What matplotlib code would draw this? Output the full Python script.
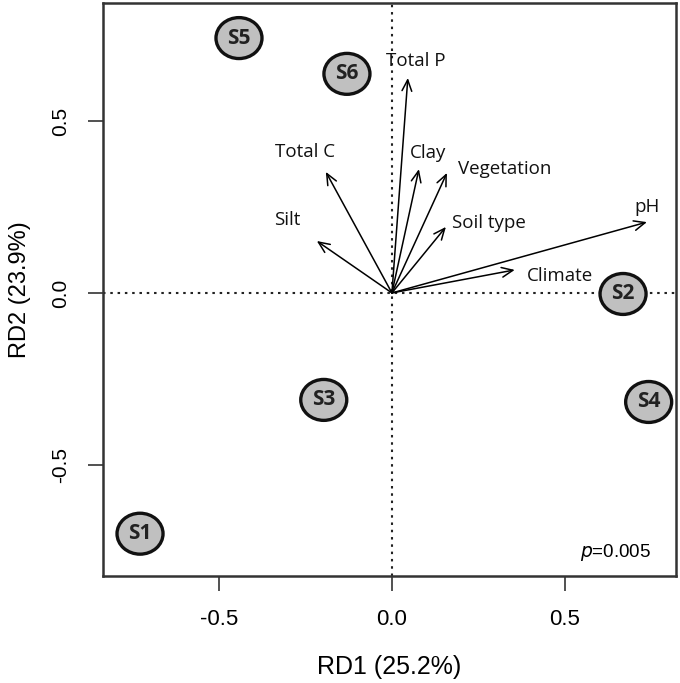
import matplotlib.pyplot as plt
from matplotlib.patches import Ellipse

# site scores (RD1, RD2)
sites = ['S1', 'S2', 'S3', 'S4', 'S5', 'S6']
site_x = [-0.728, 0.668, -0.197, 0.742, -0.442, -0.130]
site_y = [-0.700, -0.003, -0.311, -0.317, 0.741, 0.637]

# environmental vectors (arrow tips)
env = ['Total P', 'Total C', 'Silt', 'Clay', 'Vegetation', 'Soil type', 'pH', 'Climate']
env_x = [0.046, -0.191, -0.217, 0.078, 0.159, 0.156, 0.737, 0.355]
env_y = [0.625, 0.352, 0.151, 0.360, 0.349, 0.192, 0.206, 0.067]
# where the vector labels sit
lab_x = [0.069, -0.251, -0.303, 0.104, 0.327, 0.280, 0.737, 0.486]
lab_y = [0.674, 0.410, 0.212, 0.407, 0.360, 0.203, 0.250, 0.049]

xlim = (-0.835, 0.821)
ylim = (-0.823, 0.843)

fig = plt.figure(figsize=(6.8, 6.83), dpi=100)
ax = fig.add_axes([103/680, 1 - 576/683, 573/680, 573/683])
ax.set_xlim(*xlim)
ax.set_ylim(*ylim)

ax.axhline(0, color='#222222', lw=1.5, ls=(0, (1.2, 2.3)), zorder=1)
ax.axvline(0, color='#222222', lw=1.5, ls=(0, (1.2, 2.3)), zorder=1)

for x, y in zip(env_x, env_y):
    ax.annotate('', xy=(x, y), xytext=(0, 0),
                arrowprops=dict(arrowstyle='->,head_length=0.8,head_width=0.35',
                                color='black', lw=1.1, shrinkA=0, shrinkB=0),
                zorder=3)
for name, x, y in zip(env, lab_x, lab_y):
    ax.text(x, y, name, ha='center', va='center', fontsize=13.5,
            family='Open Sans', color='#111111', zorder=4)

for name, x, y in zip(sites, site_x, site_y):
    ax.add_patch(Ellipse((x, y), 0.133, 0.119, facecolor='#c0c0c0',
                         edgecolor='#111111', lw=2.4, zorder=5))
    ax.text(x, y, name, ha='center', va='center', fontsize=15,
            family='Open Sans', fontweight='bold', color='#222222', zorder=6)

ax.text(0.645, -0.756, '$p$=0.005', fontsize=13.5, family='Liberation Sans',
        ha='center', va='center')

ax.set_xticks([-0.5, 0.0, 0.5])
ax.set_yticks([-0.5, 0.0, 0.5])
ax.set_xticklabels(['-0.5', '0.0', '0.5'], family='Liberation Sans', fontsize=16)
ax.set_yticklabels(['-0.5', '0.0', '0.5'], family='Liberation Sans', fontsize=15,
                   rotation=90, va='center')
ax.tick_params(direction='out', length=11, width=1.2, color='#333333', pad=13)
for s in ax.spines.values():
    s.set_linewidth(1.8)
    s.set_color('#333333')

ax.set_xlabel('RD1 (25.2%)', family='Liberation Sans', fontsize=18, labelpad=18)
ax.set_ylabel('RD2 (23.9%)', family='Liberation Sans', fontsize=17, labelpad=14)

fig.savefig('out.png', dpi=100)
